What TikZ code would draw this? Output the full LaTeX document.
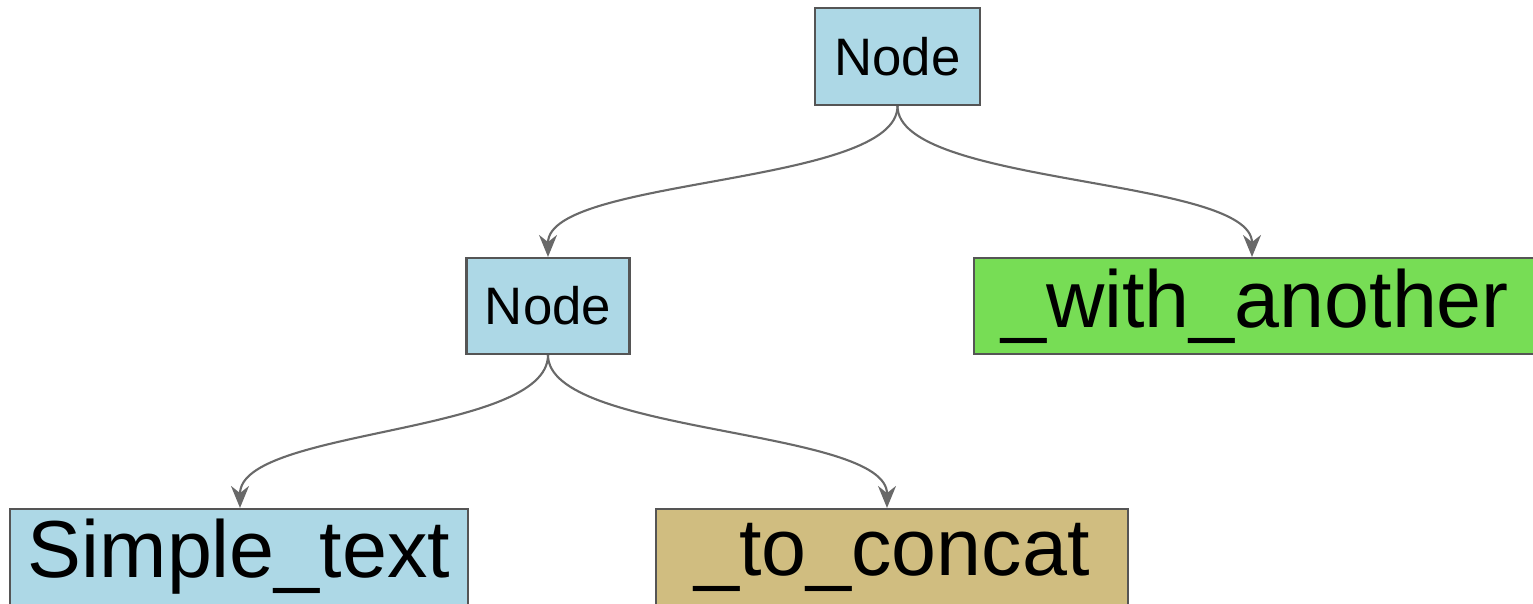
\documentclass[tikz,border=0pt]{standalone}
\usepackage{fontspec}
\setmainfont{Liberation Sans}
\usepackage{tikz}
\usetikzlibrary{arrows.meta}
\definecolor{nodeblue}{RGB}{173,216,230}
\definecolor{leafgreen}{RGB}{119,221,85}
\definecolor{leaftan}{RGB}{208,189,128}
\definecolor{boxline}{RGB}{85,85,85}
\definecolor{edgegray}{RGB}{105,105,105}

\begin{document}
\begin{tikzpicture}[
    treebox/.style={draw=boxline,line width=0.6pt,inner sep=0pt,minimum height=0.96cm},
    inner/.style={treebox,fill=nodeblue,font=\fontsize{15}{18}\selectfont,minimum width=1.63cm},
    leaf/.style={treebox,font=\fontsize{23}{27}\selectfont},
    edge/.style={draw=edgegray,line width=0.6pt,-{Stealth[length=2.2mm,width=1.8mm]}}
  ]
            \useasboundingbox (0,0) rectangle (15.33,6.04);
            % inner nodes
            \node[inner,minimum width=1.65cm,minimum height=0.97cm] (root) at (8.975,5.475) {Node};
            \node[inner] (mid) at (5.48,2.98) {Node};
            % leaves
            \node[leaf,fill=leafgreen,minimum width=5.62cm] (another) at (12.55,2.98) {\_with\_another};
            \node[leaf,fill=nodeblue,minimum width=4.58cm] (simple) at (2.39,0.47) {Simple\_text};
            \node[leaf,fill=leaftan,minimum width=4.72cm] (concat) at (8.92,0.47) {\_to\_concat};
            % edges
            \draw[edge] (root.south) .. controls +(0,-0.8) and +(0,0.8) .. (mid.north);
            \draw[edge] (root.south) .. controls +(0,-0.8) and +(0,0.8) .. (another.north-|12.52,0);
            \draw[edge] (mid.south) .. controls +(0,-0.8) and +(0,0.8) .. (simple.north-|2.4,0);
            \draw[edge] (mid.south) .. controls +(0,-0.8) and +(0,0.8) .. (concat.north-|8.87,0);
\end{tikzpicture}
\end{document}
